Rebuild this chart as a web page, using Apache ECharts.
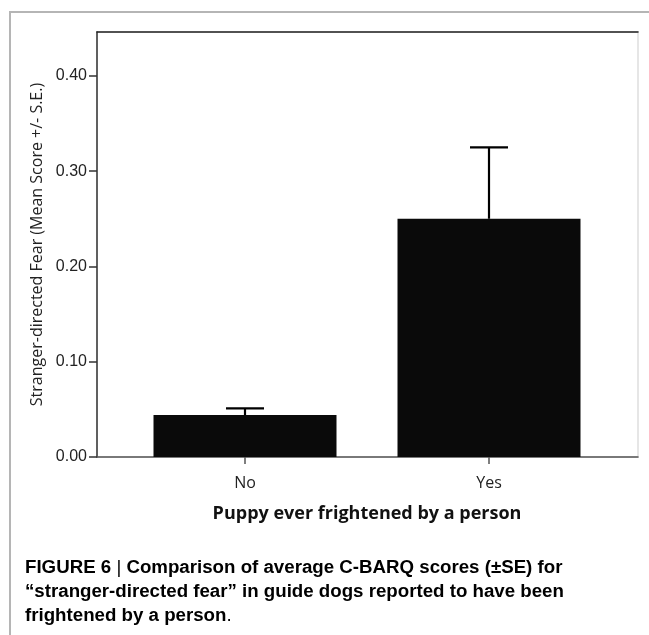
<!DOCTYPE html>
<html>
<head>
<meta charset="utf-8">
<script src="https://cdn.jsdelivr.net/npm/echarts@6/dist/echarts.min.js"></script>
<style>html,body{margin:0;padding:0;background:#fff;}#c{width:649px;height:635px;}</style>
</head>
<body>
<div id="c"></div>
<script>
const categories = ['No', 'Yes'];
const meanScores = [0.044, 0.25];
const standardErrors = [0.007, 0.075];
const yTicks = [0, 0.1, 0.2, 0.3, 0.4];
const yAxisTitle = 'Stranger-directed Fear (Mean Score +/- S.E.)';
const xAxisTitle = 'Puppy ever frightened by a person';

const chart = echarts.init(document.getElementById('c'), null, {renderer: 'canvas'});
const errData = meanScores.map((m, i) => [i, m, m + standardErrors[i]]);
const YMAX = 0.446;

chart.setOption({
  animation: false,
  backgroundColor: '#fff',
  grid: [
    {left: 97, top: 32, width: 541, height: 425, show: true, borderColor: '#e6e6e6', borderWidth: 2, backgroundColor: 'transparent'},
    {left: 123, top: 32, width: 488, height: 425}
  ],
  xAxis: [
    {gridIndex: 0, type: 'value', min: 0, max: 1, position: 'bottom',
     axisLine: {show: true, lineStyle: {color: '#555', width: 1.5}},
     axisTick: {show: false}, axisLabel: {show: false}, splitLine: {show: false}},
    {gridIndex: 0, type: 'value', min: 0, max: 1, position: 'top',
     axisLine: {show: true, lineStyle: {color: '#222', width: 1.5}},
     axisTick: {show: false}, axisLabel: {show: false}, splitLine: {show: false}},
    {gridIndex: 1, type: 'category', data: categories, position: 'bottom',
     axisLine: {show: false},
     axisTick: {show: true, alignWithLabel: true, length: 7, lineStyle: {color: '#555', width: 1.5}},
     axisLabel: {fontFamily: 'Open Sans', fontSize: 16, color: '#222', margin: 18},
     name: xAxisTitle, nameLocation: 'middle', nameGap: 48,
     nameTextStyle: {fontFamily: 'Open Sans', fontWeight: 'bold', fontSize: 18, color: '#111'}}
  ],
  yAxis: [
    {gridIndex: 0, type: 'value', min: 0, max: YMAX,
     axisLine: {show: true, lineStyle: {color: '#333', width: 1.5}},
     axisTick: {show: true, length: 8, customValues: yTicks, lineStyle: {color: '#333', width: 1.5}},
     axisLabel: {customValues: yTicks, formatter: v => v.toFixed(2), fontFamily: 'Liberation Sans', fontSize: 16, color: '#222', margin: 10},
     splitLine: {show: false},
     name: yAxisTitle, nameLocation: 'middle', nameGap: 46,
     nameTextStyle: {fontFamily: 'Open Sans', fontSize: 16, color: '#222'}},
    {gridIndex: 1, type: 'value', min: 0, max: YMAX, show: false}
  ],
  series: [
    {type: 'bar', xAxisIndex: 2, yAxisIndex: 1, data: meanScores, barWidth: 183,
     itemStyle: {color: '#0a0a0a'}},
    {type: 'custom', xAxisIndex: 2, yAxisIndex: 1, data: errData, z: 5,
     renderItem: function (params, api) {
       const x = api.value(0);
       const lo = api.coord([x, api.value(1)]);
       const hi = api.coord([x, api.value(2)]);
       const hw = 19;
       const st = {stroke: '#000', lineWidth: 2.2};
       return {type: 'group', children: [
         {type: 'line', shape: {x1: lo[0], y1: lo[1], x2: hi[0], y2: hi[1]}, style: st},
         {type: 'line', shape: {x1: hi[0] - hw, y1: hi[1], x2: hi[0] + hw, y2: hi[1]}, style: st}
       ]};
     }}
  ],
  graphic: [
    {type: 'rect', shape: {x: 10, y: 12, width: 800, height: 800}, style: {fill: 'none', stroke: '#b5b5b5', lineWidth: 2}, silent: true},
    {type: 'text', left: 25, top: 558, style: {
      text: '{b|FIGURE 6 }{bar||}{b| Comparison of average C-BARQ scores (±SE) for}\n{b|“stranger-directed fear” in guide dogs reported to have been}\n{b|frightened by a person}{n|.}',
      rich: {
        b: {fontFamily: 'Liberation Sans', fontWeight: 'bold', fontSize: 18.7, color: '#222', lineHeight: 24},
        n: {fontFamily: 'Liberation Sans', fontSize: 18.7, color: '#222', lineHeight: 24},
        bar: {fontFamily: 'Liberation Sans', fontSize: 18.7, color: '#aaa', lineHeight: 24}
      }
    }}
  ]
});
</script>
</body>
</html>
